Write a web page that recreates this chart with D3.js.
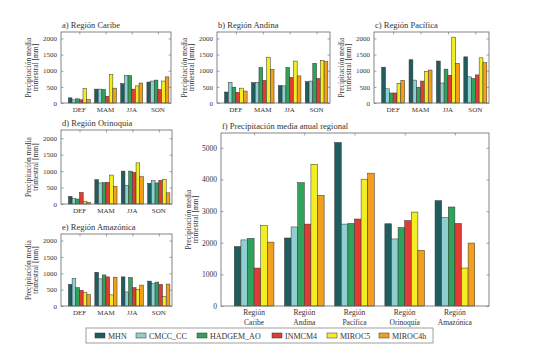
<!DOCTYPE html>
<html><head><meta charset="utf-8">
<script src="https://cdn.jsdelivr.net/npm/d3@7"></script>
<style>
body{margin:0;background:#fff;}
svg text{font-family:"Liberation Serif","DejaVu Serif",serif !important;fill:#333;}
</style></head>
<body>
<svg id="chart" width="533" height="355"></svg>
<script>
const models = ["MHN","CMCC_CC","HADGEM_AO","INMCM4","MIROC5","MIROC4h"];
const seasons = ["DEF","MAM","JJA","SON"];
const regions = ["Región Caribe","Región Andina","Región Pacífica","Región Orinoquía","Región Amazónica"];
const regionTicks = [["Región","Caribe"],["Región","Andina"],["Región","Pacífica"],["Región","Orinoquía"],["Región","Amazónica"]];
const seasonTicksY = [0,500,1000,1500,2000];
const annualTicksY = [0,1000,2000,3000,4000,5000];

// seasonal values [season][model]
const caribe = [
  [160,100,130,100,450,110],
  [430,430,420,210,880,460],
  [600,850,850,430,530,620],
  [650,680,710,420,680,810]
];
const andina = [
  [340,640,490,330,460,370],
  [630,640,1100,700,1420,1040],
  [540,530,1100,790,1300,840],
  [660,680,1230,760,1320,1280]
];
const pacifica = [
  [1110,440,310,310,610,700],
  [1340,710,490,680,980,1020],
  [1300,620,1050,860,2040,1230],
  [1430,810,760,870,1400,1250]
];
const orinoquia = [
  [230,160,150,350,80,50],
  [740,640,650,660,880,530],
  [1000,570,1000,960,1250,830],
  [630,710,640,720,750,340]
];
const amazonica = [
  [660,840,560,480,410,350],
  [1030,830,950,890,340,880],
  [890,430,870,560,510,640],
  [760,680,730,660,290,670]
];
// annual values [region][model]
const annual = [
  [1880,2090,2140,1200,2550,2020],
  [2150,2500,3900,2590,4480,3500],
  [5170,2590,2610,2750,4010,4200],
  [2600,2120,2480,2700,2970,1760],
  [3330,2800,3130,2610,1200,1990]
];

const colors = ["#1f5d5e","#8fcfd1","#2fa35b","#e23b33","#f3ee22","#f2a01b"];
const frameColor = "#666";
const serif = "'Liberation Serif','DejaVu Serif',serif";

const svg = d3.select("#chart");

function panel(cfg){
  const {x0,x1,y0,y1,yMax,xDom,groupW,data,ticks,cats,title,labelX1,labelX2,tickFont} = cfg;
  const g = svg.append("g");
  const x = d3.scaleLinear().domain(xDom).range([x0,x1]);
  const y = d3.scaleLinear().domain([0,yMax]).range([y1,y0]);
  const bw = groupW/models.length;
  const inner = d3.scaleBand().domain(models).range([-groupW/2, groupW/2]).padding(0);
  data.forEach((row,i)=>{
    g.selectAll(null).data(row).enter().append("rect")
      .attr("x",(d,j)=>x(i+1+inner(models[j])))
      .attr("width",x(1+bw)-x(1))
      .attr("y",d=>y(d))
      .attr("height",d=>y(0)-y(d))
      .attr("fill",(d,j)=>colors[j])
      .attr("stroke","#333").attr("stroke-width",0.5);
  });
  g.append("rect").attr("x",x0).attr("y",y0).attr("width",x1-x0).attr("height",y1-y0)
    .attr("fill","none").attr("stroke",frameColor).attr("stroke-width",0.8);
  const ya = d3.axisLeft(y).tickValues(ticks).tickSize(-2.5).tickPadding(4).tickFormat(d3.format("d"));
  const yg = g.append("g").attr("transform",`translate(${x0},0)`).call(ya);
  yg.attr("font-family",serif);
  yg.select(".domain").remove();
  yg.selectAll("line").attr("stroke",frameColor).attr("stroke-width",0.6);
  yg.selectAll("text").style("font-size",tickFont+"px").style("font-family",serif).attr("fill","#333");
  const ya2 = d3.axisRight(y).tickValues(ticks).tickSize(-2.5).tickFormat("");
  const yg2 = g.append("g").attr("transform",`translate(${x1},0)`).call(ya2);
  yg2.select(".domain").remove();
  yg2.selectAll("line").attr("stroke",frameColor).attr("stroke-width",0.6);
  const pos = cats.map((c,i)=>i+1);
  const xa = d3.axisBottom(x).tickValues(pos).tickSize(-2.5).tickFormat("");
  const xg = g.append("g").attr("transform",`translate(0,${y1})`).call(xa);
  xg.select(".domain").remove();
  xg.selectAll("line").attr("stroke",frameColor).attr("stroke-width",0.6);
  const xa2 = d3.axisTop(x).tickValues(pos).tickSize(-2.5).tickFormat("");
  const xg2 = g.append("g").attr("transform",`translate(0,${y0})`).call(xa2);
  xg2.select(".domain").remove();
  xg2.selectAll("line").attr("stroke",frameColor).attr("stroke-width",0.6);
  cats.forEach((c,i)=>{
    const lines = Array.isArray(c)?c:[c];
    lines.forEach((l,k)=>{
      g.append("text").attr("x",x(i+1)).attr("y",y1+9+k*9.5)
        .attr("text-anchor","middle").style("font-size",tickFont+"px").style("font-family",serif).text(l);
    });
  });
  g.append("text").attr("x",x0+1).attr("y",y0-4).style("font-size","8.5px").style("font-family",serif).text(title);
  const yc=(y0+y1)/2;
  g.append("text").attr("transform",`translate(${labelX1},${yc}) rotate(-90)`)
    .attr("text-anchor","middle").style("font-size","7.5px").style("font-family",serif).text("Precipitación media");
  g.append("text").attr("transform",`translate(${labelX2},${yc}) rotate(-90)`)
    .attr("text-anchor","middle").style("font-size","7.5px").style("font-family",serif).text("trimestral [mm]");
}

const sDom=[0.3,4.5], sGW=0.84;
panel({x0:61,x1:171,y0:32,y1:103,yMax:2200,xDom:sDom,groupW:sGW,data:caribe,ticks:seasonTicksY,cats:seasons,title:"a) Región Caribe",labelX1:31,labelX2:38,tickFont:7});
panel({x0:217,x1:330,y0:32,y1:103,yMax:2200,xDom:sDom,groupW:sGW,data:andina,ticks:seasonTicksY,cats:seasons,title:"b) Región Andina",labelX1:187,labelX2:194,tickFont:7});
panel({x0:374,x1:489,y0:32,y1:103,yMax:2200,xDom:sDom,groupW:sGW,data:pacifica,ticks:seasonTicksY,cats:seasons,title:"c) Región Pacífica",labelX1:344,labelX2:351,tickFont:7});
panel({x0:61,x1:172,y0:130,y1:204,yMax:2250,xDom:sDom,groupW:sGW,data:orinoquia,ticks:seasonTicksY,cats:seasons,title:"d) Región Orinoquia",labelX1:31,labelX2:38,tickFont:7});
panel({x0:61,x1:172,y0:234,y1:306,yMax:2200,xDom:sDom,groupW:sGW,data:amazonica,ticks:seasonTicksY,cats:seasons,title:"e) Región Amazónica",labelX1:31,labelX2:38,tickFont:7});
panel({x0:221,x1:489,y0:133,y1:306,yMax:5470,xDom:[0.34,5.68],groupW:0.79,data:annual,ticks:annualTicksY,cats:regionTicks,title:"f) Precipitación media anual regional",labelX1:191,labelX2:198,tickFont:7.5});

const lg = svg.append("g");
lg.append("rect").attr("x",86).attr("y",328).attr("width",347).attr("height",15)
  .attr("fill","#fff").attr("stroke","#888").attr("stroke-width",0.8);
const legX = [95,136,197,272,327,379];
models.forEach((m,i)=>{
  lg.append("rect").attr("x",legX[i]).attr("y",333).attr("width",10).attr("height",5)
    .attr("fill",colors[i]).attr("stroke","#333").attr("stroke-width",0.5);
  lg.append("text").attr("x",legX[i]+13).attr("y",338.5).style("font-size","8px").style("font-family",serif).text(m);
});
</script>
</body></html>
